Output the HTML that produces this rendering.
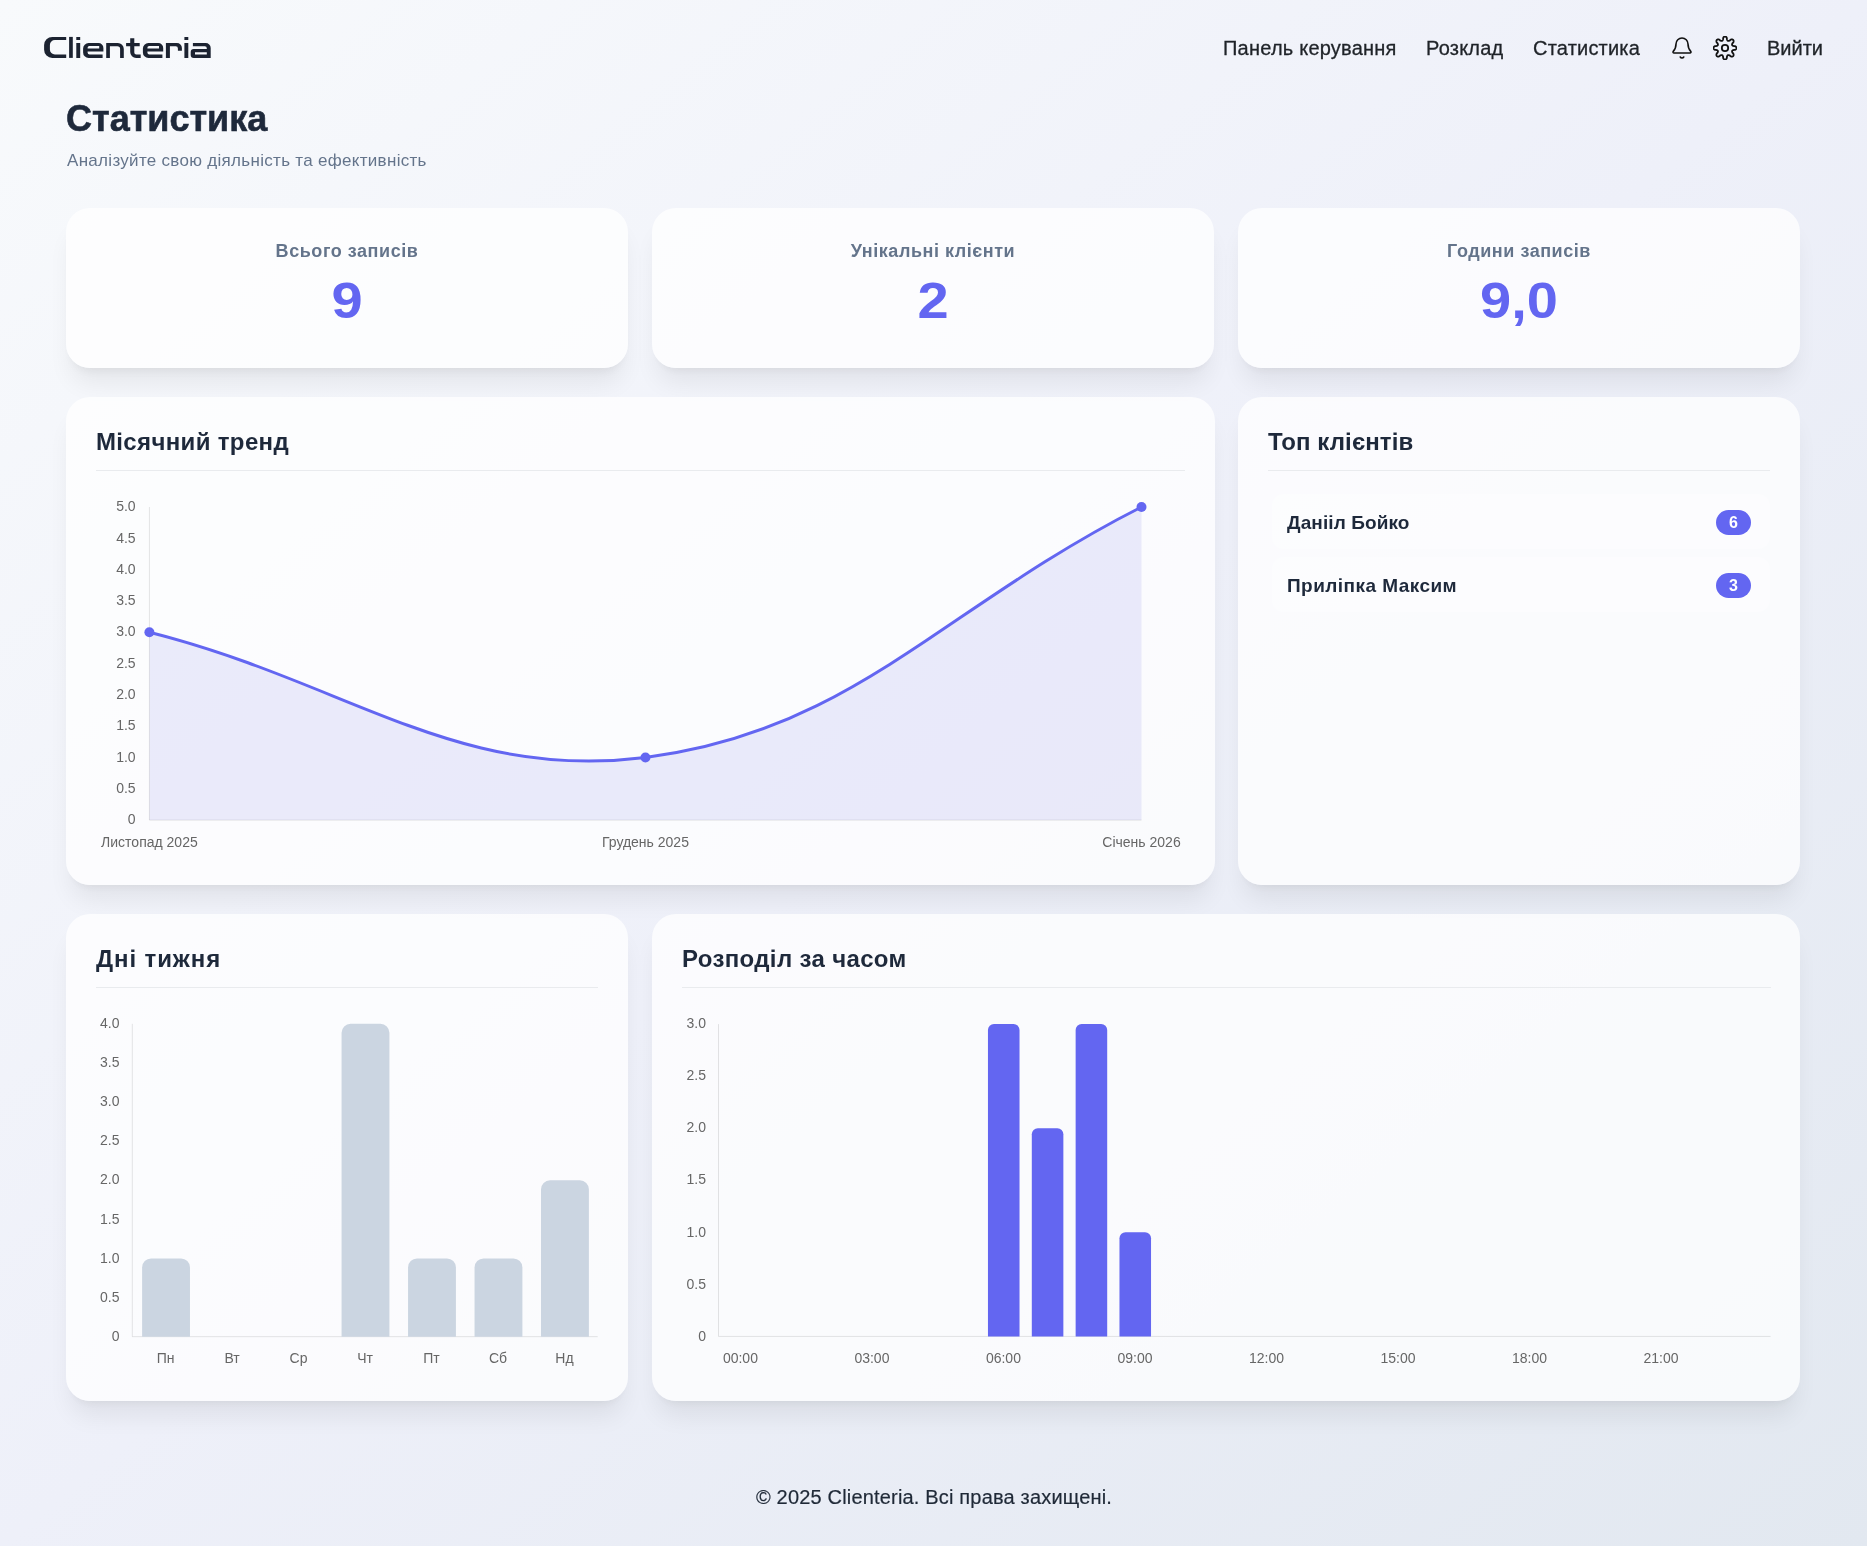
<!DOCTYPE html>
<html><head><meta charset="utf-8"><title>Clienteria — Статистика</title>
<style>
html,body{margin:0;padding:0}
body{width:1867px;height:1546px;position:relative;overflow:hidden;font-family:"Liberation Sans", sans-serif;
background:linear-gradient(to bottom right,#f8fafc 0%,#eef0f9 50%,#e2e8f0 100%);}
.t{position:absolute;line-height:1;white-space:nowrap;will-change:transform}
.card{position:absolute;border-radius:24px;background:rgba(255,255,255,0.75);
box-shadow:0 20px 25px -5px rgba(0,0,0,0.065),0 8px 10px -6px rgba(0,0,0,0.06);}
.hr{position:absolute;height:1px;background:#e9ebee}
.row{position:absolute;border-radius:12px;background:rgba(255,255,255,0.3)}
.badge{will-change:transform;position:absolute;border-radius:13px;background:#6366f1;color:#fff;font-weight:700;font-size:16px;line-height:25px;text-align:center}
.charts{position:absolute;left:0;top:0;will-change:transform}
</style></head><body>
<svg style="position:absolute;left:0;top:0" width="240" height="80" viewBox="0 0 240 80" fill="#1c2331" fill-rule="evenodd"><path d="M66.2,36.9 H52.3 A8.2 8.2 0 0 0 44.1,45.1 V49.7 A8.2 8.2 0 0 0 52.3,57.9 H66.2 V54.5 H54.9 A5 5 0 0 1 49.9,49.5 V45.1 A5 5 0 0 1 54.9,40.1 H66.2 Z"/><path d="M69.1,36.9 H72.8 V57.9 H69.1 Z"/><path d="M76.3,37.1 H80.2 V40.1 H76.3 Z M76.3,43.1 H80.2 V57.9 H76.3 Z"/><path d="M103.4,51.5 V48.1 A5 5 0 0 0 98.4,43.1 H88.6 A5.5 5.5 0 0 0 83.1,48.6 V52.4 A5.5 5.5 0 0 0 88.6,57.9 H102.6 V54.5 H89.6 A2 2 0 0 1 87.6,52.5 V51.5 Z M87.6,48.5 V47.8 A1.7 1.7 0 0 1 89.3,46.1 H99.2 V48.5 Z"/><path d="M106.2,57.9 V43.1 H117.8 A6 6 0 0 1 123.8,49.1 V57.9 H120.1 V49.1 A2.8 2.8 0 0 0 117.3,46.25 H109.9 V57.9 Z"/><path d="M130.2,38.2 H134.3 V52.5 A2 2 0 0 0 136.3,54.5 H140.7 V57.9 H136.2 A6 6 0 0 1 130.2,51.9 Z M126.1,43.1 H139.7 V46.25 H126.1 Z" fill-rule="nonzero"/><g transform="translate(59.8,0)"><path d="M103.4,51.5 V48.1 A5 5 0 0 0 98.4,43.1 H88.6 A5.5 5.5 0 0 0 83.1,48.6 V52.4 A5.5 5.5 0 0 0 88.6,57.9 H102.6 V54.5 H89.6 A2 2 0 0 1 87.6,52.5 V51.5 Z M87.6,48.5 V47.8 A1.7 1.7 0 0 1 89.3,46.1 H99.2 V48.5 Z"/></g><path d="M165.9,57.9 V43.1 H176.9 A5 5 0 0 1 181.9,48.1 V50.75 H177.9 V48.5 A2.2 2.2 0 0 0 175.7,46.25 H169.9 V57.9 Z"/><path d="M184.4,37.1 H188.3 V40.1 H184.4 Z M184.4,43.1 H188.3 V57.9 H184.4 Z"/><path d="M192.9,43.1 H205.7 A5 5 0 0 1 210.7,48.1 V57.9 H193.7 A3 3 0 0 1 190.7,54.9 V52.1 A3 3 0 0 1 193.7,49.1 H206.8 V48.3 A2 2 0 0 0 204.8,46.25 H192.9 Z M195,52.2 H206.8 V54.5 H195 Z"/></svg>
<svg style="position:absolute;left:1670px;top:36px" width="24" height="24" viewBox="0 0 24 24" fill="none" stroke="#111" stroke-width="1.6" stroke-linecap="round" stroke-linejoin="round"><path d="M10.268 21a2 2 0 0 0 3.464 0"/><path d="M3.262 15.326A1 1 0 0 0 4 17h16a1 1 0 0 0 .74-1.673C19.41 13.956 18 12.499 18 8A6 6 0 0 0 6 8c0 4.499-1.411 5.956-2.738 7.326"/></svg>
<svg style="position:absolute;left:1713px;top:36px" width="24" height="24" viewBox="0 0 24 24" fill="none" stroke="#111" stroke-width="1.8" stroke-linejoin="round"><path d="M12.00,0.50 L12.30,0.53 L12.60,0.62 L12.88,0.76 L13.16,0.97 L13.42,1.24 L13.65,1.59 L13.84,2.08 L13.89,3.09 L14.02,3.58 L14.16,3.94 L14.30,4.23 L14.45,4.46 L14.60,4.65 L14.77,4.79 L14.95,4.89 L15.14,4.94 L15.36,4.96 L15.60,4.94 L15.87,4.88 L16.17,4.77 L16.53,4.62 L16.96,4.36 L17.72,3.68 L18.19,3.47 L18.61,3.39 L18.98,3.38 L19.32,3.43 L19.63,3.53 L19.90,3.68 L20.13,3.87 L20.32,4.10 L20.47,4.37 L20.57,4.68 L20.62,5.02 L20.61,5.39 L20.53,5.81 L20.32,6.28 L19.64,7.04 L19.38,7.47 L19.23,7.83 L19.12,8.13 L19.06,8.40 L19.04,8.64 L19.06,8.86 L19.11,9.05 L19.21,9.23 L19.35,9.40 L19.54,9.55 L19.77,9.70 L20.06,9.84 L20.42,9.98 L20.91,10.11 L21.92,10.16 L22.41,10.35 L22.76,10.58 L23.03,10.84 L23.24,11.12 L23.38,11.40 L23.47,11.70 L23.50,12.00 L23.47,12.30 L23.38,12.60 L23.24,12.88 L23.03,13.16 L22.76,13.42 L22.41,13.65 L21.92,13.84 L20.91,13.89 L20.42,14.02 L20.06,14.16 L19.77,14.30 L19.54,14.45 L19.35,14.60 L19.21,14.77 L19.11,14.95 L19.06,15.14 L19.04,15.36 L19.06,15.60 L19.12,15.87 L19.23,16.17 L19.38,16.53 L19.64,16.96 L20.32,17.72 L20.53,18.19 L20.61,18.61 L20.62,18.98 L20.57,19.32 L20.47,19.63 L20.32,19.90 L20.13,20.13 L19.90,20.32 L19.63,20.47 L19.32,20.57 L18.98,20.62 L18.61,20.61 L18.19,20.53 L17.72,20.32 L16.96,19.64 L16.53,19.38 L16.17,19.23 L15.87,19.12 L15.60,19.06 L15.36,19.04 L15.14,19.06 L14.95,19.11 L14.77,19.21 L14.60,19.35 L14.45,19.54 L14.30,19.77 L14.16,20.06 L14.02,20.42 L13.89,20.91 L13.84,21.92 L13.65,22.41 L13.42,22.76 L13.16,23.03 L12.88,23.24 L12.60,23.38 L12.30,23.47 L12.00,23.50 L11.70,23.47 L11.40,23.38 L11.12,23.24 L10.84,23.03 L10.58,22.76 L10.35,22.41 L10.16,21.92 L10.11,20.91 L9.98,20.42 L9.84,20.06 L9.70,19.77 L9.55,19.54 L9.40,19.35 L9.23,19.21 L9.05,19.11 L8.86,19.06 L8.64,19.04 L8.40,19.06 L8.13,19.12 L7.83,19.23 L7.47,19.38 L7.04,19.64 L6.28,20.32 L5.81,20.53 L5.39,20.61 L5.02,20.62 L4.68,20.57 L4.37,20.47 L4.10,20.32 L3.87,20.13 L3.68,19.90 L3.53,19.63 L3.43,19.32 L3.38,18.98 L3.39,18.61 L3.47,18.19 L3.68,17.72 L4.36,16.96 L4.62,16.53 L4.77,16.17 L4.88,15.87 L4.94,15.60 L4.96,15.36 L4.94,15.14 L4.89,14.95 L4.79,14.77 L4.65,14.60 L4.46,14.45 L4.23,14.30 L3.94,14.16 L3.58,14.02 L3.09,13.89 L2.08,13.84 L1.59,13.65 L1.24,13.42 L0.97,13.16 L0.76,12.88 L0.62,12.60 L0.53,12.30 L0.50,12.00 L0.53,11.70 L0.62,11.40 L0.76,11.12 L0.97,10.84 L1.24,10.58 L1.59,10.35 L2.08,10.16 L3.09,10.11 L3.58,9.98 L3.94,9.84 L4.23,9.70 L4.46,9.55 L4.65,9.40 L4.79,9.23 L4.89,9.05 L4.94,8.86 L4.96,8.64 L4.94,8.40 L4.88,8.13 L4.77,7.83 L4.62,7.47 L4.36,7.04 L3.68,6.28 L3.47,5.81 L3.39,5.39 L3.38,5.02 L3.43,4.68 L3.53,4.37 L3.68,4.10 L3.87,3.87 L4.10,3.68 L4.37,3.53 L4.68,3.43 L5.02,3.38 L5.39,3.39 L5.81,3.47 L6.28,3.68 L7.04,4.36 L7.47,4.62 L7.83,4.77 L8.13,4.88 L8.40,4.94 L8.64,4.96 L8.86,4.94 L9.05,4.89 L9.23,4.79 L9.40,4.65 L9.55,4.46 L9.70,4.23 L9.84,3.94 L9.98,3.58 L10.11,3.09 L10.16,2.08 L10.35,1.59 L10.58,1.24 L10.84,0.97 L11.12,0.76 L11.40,0.62 L11.70,0.53 L12.00,0.50Z"/><circle cx="12" cy="12" r="3.2"/></svg>
<div class="t" style="left:1222.5px;top:38.07px;font-size:20px;font-weight:400;color:#1f2328;letter-spacing:0.22px;-webkit-text-stroke:0.3px #1f2328">Панель керування</div>
<div class="t" style="left:1425.5px;top:38.07px;font-size:20px;font-weight:400;color:#1f2328;letter-spacing:0.2px;-webkit-text-stroke:0.3px #1f2328">Розклад</div>
<div class="t" style="left:1532.5px;top:38.07px;font-size:20px;font-weight:400;color:#1f2328;letter-spacing:0.2px;-webkit-text-stroke:0.3px #1f2328">Статистика</div>
<div class="t" style="left:1766.5px;top:38.07px;font-size:20px;font-weight:400;color:#1f2328;letter-spacing:0.0px;-webkit-text-stroke:0.3px #1f2328">Вийти</div>
<div class="t" style="left:66px;top:100.53px;font-size:36px;font-weight:700;color:#1e293b;letter-spacing:0.0px;-webkit-text-stroke:0.6px #1e293b">Статистика</div>
<div class="t" style="left:66.5px;top:151.61px;font-size:17px;font-weight:400;color:#64748b;letter-spacing:0.3px;">Аналізуйте свою діяльність та ефективність</div>
<div class="card" style="left:66px;top:208px;width:562px;height:160px"></div>
<div class="t" style="left:-153px;width:1000px;text-align:center;top:241.76px;font-size:18px;font-weight:700;color:#64748b;letter-spacing:0.55px;">Всього записів</div>
<div class="t" style="left:-153px;width:1000px;text-align:center;top:275.68px;font-size:50px;font-weight:700;color:#6366f1;letter-spacing:0px;transform:scaleX(1.12);transform-origin:500px 0">9</div>
<div class="card" style="left:652px;top:208px;width:562px;height:160px"></div>
<div class="t" style="left:433px;width:1000px;text-align:center;top:241.76px;font-size:18px;font-weight:700;color:#64748b;letter-spacing:0.55px;">Унікальні клієнти</div>
<div class="t" style="left:433px;width:1000px;text-align:center;top:275.68px;font-size:50px;font-weight:700;color:#6366f1;letter-spacing:0px;transform:scaleX(1.12);transform-origin:500px 0">2</div>
<div class="card" style="left:1238px;top:208px;width:562px;height:160px"></div>
<div class="t" style="left:1019px;width:1000px;text-align:center;top:241.76px;font-size:18px;font-weight:700;color:#64748b;letter-spacing:0.55px;">Години записів</div>
<div class="t" style="left:1019px;width:1000px;text-align:center;top:275.68px;font-size:50px;font-weight:700;color:#6366f1;letter-spacing:0px;transform:scaleX(1.12);transform-origin:500px 0">9,0</div>
<div class="card" style="left:66px;top:397px;width:1149px;height:488px"></div>
<div class="card" style="left:1238px;top:397px;width:562px;height:488px"></div>
<div class="card" style="left:66px;top:914px;width:562px;height:487px"></div>
<div class="card" style="left:652px;top:914px;width:1148px;height:487px"></div>
<div class="t" style="left:96px;top:429.68px;font-size:24px;font-weight:700;color:#1e293b;letter-spacing:0.35px;">Місячний тренд</div>
<div class="hr" style="left:96px;top:470px;width:1089px"></div>
<div class="t" style="left:1268px;top:429.68px;font-size:24px;font-weight:700;color:#1e293b;letter-spacing:0.1px;">Топ клієнтів</div>
<div class="hr" style="left:1268px;top:470px;width:502px"></div>
<div class="t" style="left:96px;top:946.68px;font-size:24px;font-weight:700;color:#1e293b;letter-spacing:0.9px;">Дні тижня</div>
<div class="hr" style="left:96px;top:987px;width:502px"></div>
<div class="t" style="left:682px;top:946.68px;font-size:24px;font-weight:700;color:#1e293b;letter-spacing:0.35px;">Розподіл за часом</div>
<div class="hr" style="left:682px;top:987px;width:1089px"></div>
<div class="row" style="left:1272px;top:494px;width:498px;height:55px"></div>
<div class="t" style="left:1287px;top:512.92px;font-size:19px;font-weight:700;color:#1e293b;letter-spacing:0.1px;">Данііл Бойко</div>
<div class="badge" style="left:1716px;top:509.5px;width:35px;height:25px">6</div>
<div class="row" style="left:1272px;top:557px;width:498px;height:55px"></div>
<div class="t" style="left:1287px;top:575.92px;font-size:19px;font-weight:700;color:#1e293b;letter-spacing:0.45px;">Приліпка Максим</div>
<div class="badge" style="left:1716px;top:572.5px;width:35px;height:25px">3</div>
<div class="t" style="left:433.5px;width:1000px;text-align:center;top:1487.07px;font-size:20px;font-weight:400;color:#1f2937;letter-spacing:0.18px;-webkit-text-stroke:0.2px #1f2937">© 2025 Clienteria. Всі права захищені.</div>
<svg class="charts" width="1867" height="1546" viewBox="0 0 1867 1546"><path d="M149.40,632.24 C347.82,682.34 455.23,781.49 645.45,757.48 C852.07,731.40 943.08,607.19 1141.50,507.00 L1141.5,820.1 L149.4,820.1 Z" fill="rgba(90,95,215,0.11)"/>
<line x1="149.4" y1="507.0" x2="149.4" y2="820.1" stroke="rgba(0,0,0,0.1)" stroke-width="1"/>
<line x1="149.4" y1="820.1" x2="1141.5" y2="820.1" stroke="rgba(0,0,0,0.1)" stroke-width="1"/>
<path d="M149.40,632.24 C347.82,682.34 455.23,781.49 645.45,757.48 C852.07,731.40 943.08,607.19 1141.50,507.00" fill="none" stroke="#6366f1" stroke-width="3"/>
<circle cx="149.40" cy="632.24" r="5" fill="#6366f1"/>
<circle cx="645.45" cy="757.48" r="5" fill="#6366f1"/>
<circle cx="1141.50" cy="507.00" r="5" fill="#6366f1"/>
<text x="135.6" y="824.30" text-anchor="end" style="font-family:'Liberation Sans',sans-serif;font-size:14px;fill:#666">0</text>
<text x="135.6" y="792.99" text-anchor="end" style="font-family:'Liberation Sans',sans-serif;font-size:14px;fill:#666">0.5</text>
<text x="135.6" y="761.68" text-anchor="end" style="font-family:'Liberation Sans',sans-serif;font-size:14px;fill:#666">1.0</text>
<text x="135.6" y="730.37" text-anchor="end" style="font-family:'Liberation Sans',sans-serif;font-size:14px;fill:#666">1.5</text>
<text x="135.6" y="699.06" text-anchor="end" style="font-family:'Liberation Sans',sans-serif;font-size:14px;fill:#666">2.0</text>
<text x="135.6" y="667.75" text-anchor="end" style="font-family:'Liberation Sans',sans-serif;font-size:14px;fill:#666">2.5</text>
<text x="135.6" y="636.44" text-anchor="end" style="font-family:'Liberation Sans',sans-serif;font-size:14px;fill:#666">3.0</text>
<text x="135.6" y="605.13" text-anchor="end" style="font-family:'Liberation Sans',sans-serif;font-size:14px;fill:#666">3.5</text>
<text x="135.6" y="573.82" text-anchor="end" style="font-family:'Liberation Sans',sans-serif;font-size:14px;fill:#666">4.0</text>
<text x="135.6" y="542.51" text-anchor="end" style="font-family:'Liberation Sans',sans-serif;font-size:14px;fill:#666">4.5</text>
<text x="135.6" y="511.20" text-anchor="end" style="font-family:'Liberation Sans',sans-serif;font-size:14px;fill:#666">5.0</text>
<text x="149.40" y="846.6" text-anchor="middle" style="font-family:'Liberation Sans',sans-serif;font-size:14px;fill:#666">Листопад 2025</text>
<text x="645.45" y="846.6" text-anchor="middle" style="font-family:'Liberation Sans',sans-serif;font-size:14px;fill:#666">Грудень 2025</text>
<text x="1141.50" y="846.6" text-anchor="middle" style="font-family:'Liberation Sans',sans-serif;font-size:14px;fill:#666">Січень 2026</text>
<line x1="132.3" y1="1023.8" x2="132.3" y2="1336.7" stroke="rgba(0,0,0,0.1)"/>
<line x1="132.3" y1="1336.7" x2="597.7" y2="1336.7" stroke="rgba(0,0,0,0.1)"/>
<path d="M142.11,1336.70 L142.11,1267.47 A9 9 0 0 1 151.11,1258.47 L180.98,1258.47 A9 9 0 0 1 189.98,1267.47 L189.98,1336.70 Z" fill="#cbd5e1"/>
<text x="165.54" y="1363" text-anchor="middle" style="font-family:'Liberation Sans',sans-serif;font-size:14px;fill:#666">Пн</text>
<text x="232.03" y="1363" text-anchor="middle" style="font-family:'Liberation Sans',sans-serif;font-size:14px;fill:#666">Вт</text>
<text x="298.51" y="1363" text-anchor="middle" style="font-family:'Liberation Sans',sans-serif;font-size:14px;fill:#666">Ср</text>
<path d="M341.57,1336.70 L341.57,1032.80 A9 9 0 0 1 350.57,1023.80 L380.43,1023.80 A9 9 0 0 1 389.43,1032.80 L389.43,1336.70 Z" fill="#cbd5e1"/>
<text x="365.00" y="1363" text-anchor="middle" style="font-family:'Liberation Sans',sans-serif;font-size:14px;fill:#666">Чт</text>
<path d="M408.05,1336.70 L408.05,1267.47 A9 9 0 0 1 417.05,1258.47 L446.92,1258.47 A9 9 0 0 1 455.92,1267.47 L455.92,1336.70 Z" fill="#cbd5e1"/>
<text x="431.49" y="1363" text-anchor="middle" style="font-family:'Liberation Sans',sans-serif;font-size:14px;fill:#666">Пт</text>
<path d="M474.54,1336.70 L474.54,1267.47 A9 9 0 0 1 483.54,1258.47 L513.41,1258.47 A9 9 0 0 1 522.41,1267.47 L522.41,1336.70 Z" fill="#cbd5e1"/>
<text x="497.97" y="1363" text-anchor="middle" style="font-family:'Liberation Sans',sans-serif;font-size:14px;fill:#666">Сб</text>
<path d="M541.02,1336.70 L541.02,1189.25 A9 9 0 0 1 550.02,1180.25 L579.89,1180.25 A9 9 0 0 1 588.89,1189.25 L588.89,1336.70 Z" fill="#cbd5e1"/>
<text x="564.46" y="1363" text-anchor="middle" style="font-family:'Liberation Sans',sans-serif;font-size:14px;fill:#666">Нд</text>
<text x="119.5" y="1340.90" text-anchor="end" style="font-family:'Liberation Sans',sans-serif;font-size:14px;fill:#666">0</text>
<text x="119.5" y="1301.79" text-anchor="end" style="font-family:'Liberation Sans',sans-serif;font-size:14px;fill:#666">0.5</text>
<text x="119.5" y="1262.67" text-anchor="end" style="font-family:'Liberation Sans',sans-serif;font-size:14px;fill:#666">1.0</text>
<text x="119.5" y="1223.56" text-anchor="end" style="font-family:'Liberation Sans',sans-serif;font-size:14px;fill:#666">1.5</text>
<text x="119.5" y="1184.45" text-anchor="end" style="font-family:'Liberation Sans',sans-serif;font-size:14px;fill:#666">2.0</text>
<text x="119.5" y="1145.34" text-anchor="end" style="font-family:'Liberation Sans',sans-serif;font-size:14px;fill:#666">2.5</text>
<text x="119.5" y="1106.23" text-anchor="end" style="font-family:'Liberation Sans',sans-serif;font-size:14px;fill:#666">3.0</text>
<text x="119.5" y="1067.11" text-anchor="end" style="font-family:'Liberation Sans',sans-serif;font-size:14px;fill:#666">3.5</text>
<text x="119.5" y="1028.00" text-anchor="end" style="font-family:'Liberation Sans',sans-serif;font-size:14px;fill:#666">4.0</text>
<line x1="718.5" y1="1024.1" x2="718.5" y2="1336.4" stroke="rgba(0,0,0,0.1)"/>
<line x1="718.5" y1="1336.4" x2="1770.6" y2="1336.4" stroke="rgba(0,0,0,0.1)"/>
<text x="740.42" y="1363" text-anchor="middle" style="font-family:'Liberation Sans',sans-serif;font-size:14px;fill:#666">00:00</text>
<text x="871.93" y="1363" text-anchor="middle" style="font-family:'Liberation Sans',sans-serif;font-size:14px;fill:#666">03:00</text>
<path d="M987.96,1336.40 L987.96,1030.10 A6 6 0 0 1 993.96,1024.10 L1013.53,1024.10 A6 6 0 0 1 1019.53,1030.10 L1019.53,1336.40 Z" fill="#6366f1"/>
<text x="1003.44" y="1363" text-anchor="middle" style="font-family:'Liberation Sans',sans-serif;font-size:14px;fill:#666">06:00</text>
<path d="M1031.80,1336.40 L1031.80,1134.20 A6 6 0 0 1 1037.80,1128.20 L1057.36,1128.20 A6 6 0 0 1 1063.36,1134.20 L1063.36,1336.40 Z" fill="#6366f1"/>
<path d="M1075.64,1336.40 L1075.64,1030.10 A6 6 0 0 1 1081.64,1024.10 L1101.20,1024.10 A6 6 0 0 1 1107.20,1030.10 L1107.20,1336.40 Z" fill="#6366f1"/>
<path d="M1119.47,1336.40 L1119.47,1238.30 A6 6 0 0 1 1125.47,1232.30 L1145.04,1232.30 A6 6 0 0 1 1151.04,1238.30 L1151.04,1336.40 Z" fill="#6366f1"/>
<text x="1134.96" y="1363" text-anchor="middle" style="font-family:'Liberation Sans',sans-serif;font-size:14px;fill:#666">09:00</text>
<text x="1266.47" y="1363" text-anchor="middle" style="font-family:'Liberation Sans',sans-serif;font-size:14px;fill:#666">12:00</text>
<text x="1397.98" y="1363" text-anchor="middle" style="font-family:'Liberation Sans',sans-serif;font-size:14px;fill:#666">15:00</text>
<text x="1529.49" y="1363" text-anchor="middle" style="font-family:'Liberation Sans',sans-serif;font-size:14px;fill:#666">18:00</text>
<text x="1661.01" y="1363" text-anchor="middle" style="font-family:'Liberation Sans',sans-serif;font-size:14px;fill:#666">21:00</text>
<text x="706" y="1340.60" text-anchor="end" style="font-family:'Liberation Sans',sans-serif;font-size:14px;fill:#666">0</text>
<text x="706" y="1288.55" text-anchor="end" style="font-family:'Liberation Sans',sans-serif;font-size:14px;fill:#666">0.5</text>
<text x="706" y="1236.50" text-anchor="end" style="font-family:'Liberation Sans',sans-serif;font-size:14px;fill:#666">1.0</text>
<text x="706" y="1184.45" text-anchor="end" style="font-family:'Liberation Sans',sans-serif;font-size:14px;fill:#666">1.5</text>
<text x="706" y="1132.40" text-anchor="end" style="font-family:'Liberation Sans',sans-serif;font-size:14px;fill:#666">2.0</text>
<text x="706" y="1080.35" text-anchor="end" style="font-family:'Liberation Sans',sans-serif;font-size:14px;fill:#666">2.5</text>
<text x="706" y="1028.30" text-anchor="end" style="font-family:'Liberation Sans',sans-serif;font-size:14px;fill:#666">3.0</text></svg>

</body></html>
